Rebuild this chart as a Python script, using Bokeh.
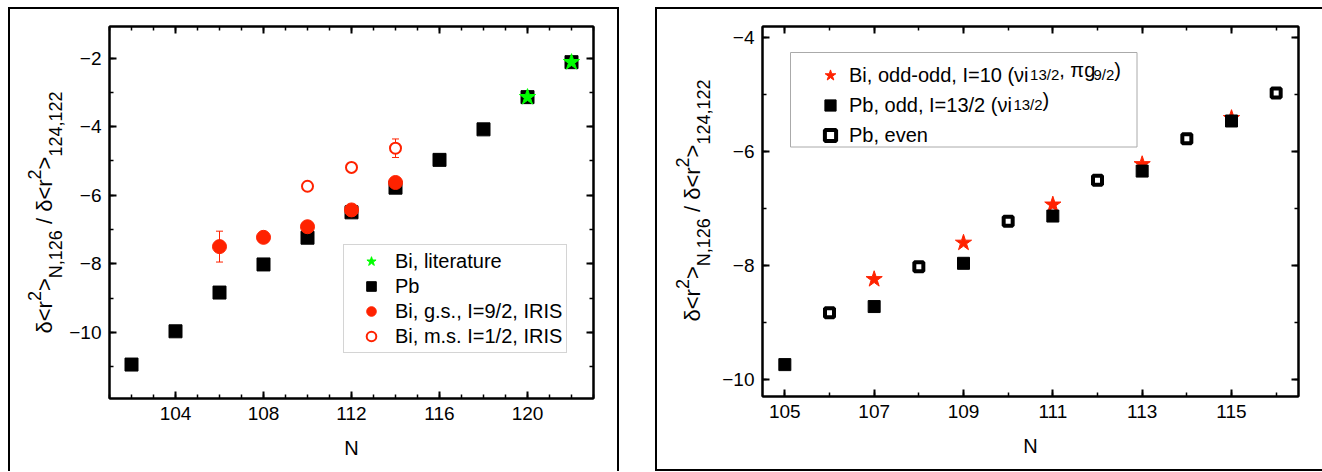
from bokeh.plotting import figure
from bokeh.models import (ColumnDataSource, Range1d, FixedTicker, LinearAxis, Label, Legend,
                          LegendItem, Whisker, TeeHead, BoxAnnotation, CustomJSTickFormatter, Spacer)
from bokeh.layouts import row, column
from bokeh.embed import file_html
from bokeh.resources import INLINE

FONT = "Liberation Sans"
RED = "#ff2200"
GREEN = "#00ff00"

# ---------------- data: left panel ----------------
pb_N = [102, 104, 106, 108, 110, 112, 114, 116, 118, 120, 122]
pb_r = [-10.94, -9.97, -8.84, -8.02, -7.24, -6.50, -5.78, -4.97, -4.08, -3.14, -2.12]
bilit_N = [120, 122]
bilit_r = [-3.14, -2.12]
bigs_N = [106, 108, 110, 112, 114]
bigs_r = [-7.50, -7.23, -6.92, -6.43, -5.63]
bigs_err = [0.45, 0.08, 0.08, 0.08, 0.08]
bims_N = [110, 112, 114]
bims_r = [-5.74, -5.19, -4.63]
bims_err = [0.08, 0.08, 0.27]

left_xticks = [104, 108, 112, 116, 120]
left_yticks = [-10, -8, -6, -4, -2]

# ---------------- data: right panel ----------------
bioo_N = [107, 109, 111, 113, 115]
bioo_r = [-8.24, -7.60, -6.93, -6.22, -5.41]
pbodd_N = [105, 107, 109, 111, 113, 115]
pbodd_r = [-9.74, -8.72, -7.96, -7.13, -6.34, -5.46]
pbeven_N = [106, 108, 110, 112, 114, 116]
pbeven_r = [-8.83, -8.02, -7.22, -6.50, -5.77, -4.97]

right_xticks = [105, 107, 109, 111, 113, 115]
right_yticks = [-10, -8, -6, -4]

# Arial / Liberation Sans advance widths (em)
AW = {' ': .278, ',': .278, '.': .278, '/': .278, '-': .333, '(': .333, ')': .333, '=': .584,
      '<': .584, '>': .584, 'B': .667, 'i': .222, 'o': .556, 'd': .556, 'I': .278, 'P': .667,
      'b': .556, 'e': .556, 'v': .5, 'n': .556, 'g': .556, 'r': .333, 'N': .722, 'δ': .556,
      'ν': .5, 'π': .6}


def tw(s, size):
    return sum(AW.get(c, .556) for c in s) * size


def make_fig(xr, yr, fw, fh, mbl, mbr, mbt, mbb, xt, xminor, yt, yminor):
    p = figure(x_range=Range1d(*xr), y_range=Range1d(*yr), frame_width=fw, frame_height=fh,
               min_border_left=mbl, min_border_right=mbr, min_border_top=mbt,
               min_border_bottom=mbb, output_backend="svg", toolbar_location=None,
               x_axis_type=None, y_axis_type=None)
    p.outline_line_color = "black"
    p.outline_line_width = 2
    p.background_fill_color = "white"
    p.border_fill_color = "white"
    for place, dim in (("below", "x"), ("left", "y"), ("above", "x"), ("right", "y")):
        ticks, minor = (xt, xminor) if dim == "x" else (yt, yminor)
        ax = LinearAxis(ticker=FixedTicker(ticks=ticks, minor_ticks=minor))
        ax.axis_line_width = 2
        ax.axis_line_color = "black"
        ax.major_tick_in = 7
        ax.major_tick_out = 0
        ax.minor_tick_in = 4
        ax.minor_tick_out = 0
        ax.major_tick_line_width = 2
        ax.minor_tick_line_width = 1.5
        ax.major_label_text_font = FONT
        ax.major_label_text_font_size = "19px"
        ax.major_label_text_color = "black"
        ax.major_label_standoff = 8
        if place in ("above", "right"):
            ax.formatter = CustomJSTickFormatter(code="return ''")
            ax.major_label_standoff = 0
        if place == "below":
            ax.axis_label = "N"
            ax.axis_label_text_font = FONT
            ax.axis_label_text_font_size = "20px"
            ax.axis_label_text_font_style = "normal"
            ax.axis_label_text_color = "black"
            ax.axis_label_standoff = 14
        p.add_layout(ax, place)
    return p


def label_fig(w, h):
    f = figure(width=w, height=h, min_border=0, min_border_left=0, min_border_right=0,
               min_border_top=0, min_border_bottom=0, x_range=Range1d(0, 1), y_range=Range1d(0, 1),
               x_axis_type=None, y_axis_type=None, toolbar_location=None, output_backend="svg")
    f.outline_line_color = None
    f.background_fill_color = "white"
    f.border_fill_color = "white"
    return f


def vlabel(p, x0, yc, pieces, F=22, S=18, sub_dx=11, sup_dx=10):
    total = sum(tw(t, F if k == "n" else S) for t, k in pieces)
    y = yc - total / 2
    for t, k in pieces:
        size = F if k == "n" else S
        lead = len(t) - len(t.lstrip())
        dx = {"n": 0, "sub": sub_dx, "sup": -sup_dx}[k]
        p.add_layout(Label(x=x0 + dx, y=y + tw(t[:lead], size), x_units="screen", y_units="screen",
                           text=t.strip(), angle=90, angle_units="deg", text_font=FONT,
                           text_font_size=f"{size}px", text_align="left",
                           text_baseline="alphabetic", text_color="black"))
        y += tw(t, size)


def hpieces(p, x0, y, pieces, F=20, S=15, sub_dy=5):
    x = x0
    for t, k in pieces:
        size = F if k == "n" else S
        p.add_layout(Label(x=x, y=y - (sub_dy if k == "sub" else 0), x_units="screen",
                           y_units="screen", text=t, text_font=FONT, text_font_size=f"{size}px",
                           text_align="left", text_baseline="middle", text_color="black"))
        x += tw(t, size)


YLAB = [("δ<r", "n"), ("2", "sup"), (">", "n"), ("N,126", "sub"), (" / δ<r", "n"),
        ("2", "sup"), (">", "n"), ("124,122", "sub")]

# ================= left panel =================
p1 = make_fig((101, 123), (-11.93, -1.08), 484, 372, 39, 24, 17, 73,
              left_xticks, list(range(101, 124)), left_yticks, list(range(-11, -1)))

src_pb = ColumnDataSource(dict(x=pb_N, y=pb_r))
src_lit = ColumnDataSource(dict(x=bilit_N, y=bilit_r))
src_gs = ColumnDataSource(dict(x=bigs_N, y=bigs_r, lo=[a - e for a, e in zip(bigs_r, bigs_err)],
                               hi=[a + e for a, e in zip(bigs_r, bigs_err)]))
src_ms = ColumnDataSource(dict(x=bims_N, y=bims_r, lo=[a - e for a, e in zip(bims_r, bims_err)],
                               hi=[a + e for a, e in zip(bims_r, bims_err)]))

for s in (src_gs, src_ms):
    w = Whisker(base="x", upper="hi", lower="lo", source=s, line_color=RED, line_width=1,
                level="underlay",
                upper_head=TeeHead(size=7, line_color=RED, line_width=1),
                lower_head=TeeHead(size=7, line_color=RED, line_width=1))
    p1.add_layout(w)

r_pb = p1.scatter("x", "y", source=src_pb, marker="square", size=13, color="black")
r_lit = p1.scatter("x", "y", source=src_lit, marker="star", size=17, color=GREEN)
r_gs = p1.scatter("x", "y", source=src_gs, marker="circle", size=14, color=RED)
r_ms = p1.scatter("x", "y", source=src_ms, marker="circle", size=11, fill_color="white",
                  line_color=RED, line_width=2)

leg1 = Legend(items=[LegendItem(label="Bi, literature", renderers=[r_lit]),
                     LegendItem(label="Pb", renderers=[r_pb]),
                     LegendItem(label="Bi, g.s., I=9/2, IRIS", renderers=[r_gs]),
                     LegendItem(label="Bi, m.s. I=1/2, IRIS", renderers=[r_ms])],
              location=(234, 45), padding=4, spacing=1, glyph_width=46, glyph_height=24,
              label_height=24, label_standoff=1, label_text_font=FONT,
              label_text_font_size="20px", label_text_color="black",
              border_line_color="#aaaaaa", border_line_width=1,
              background_fill_color="white", background_fill_alpha=1, margin=0)
p1.add_layout(leg1)

# label figure: its frame is aligned with p1's frame (bottom at y=398 px)
l1 = label_fig(56, 462)
vlabel(l1, 34, 186, YLAB)

panel1 = row(l1, p1, styles={"border-top": "2px solid black", "border-left": "2px solid black",
                             "border-right": "2px solid black"})

# ================= right panel =================
p2 = make_fig((104.5, 116.5), (-10.3, -3.8), 536, 370, 45, 24, 17, 73,
              right_xticks, list(range(104, 117)), right_yticks, list(range(-10, -3)))

src_oo = ColumnDataSource(dict(x=bioo_N, y=bioo_r))
src_odd = ColumnDataSource(dict(x=pbodd_N, y=pbodd_r))
src_even = ColumnDataSource(dict(x=pbeven_N, y=pbeven_r))

r_oo = p2.scatter("x", "y", source=src_oo, marker="star", size=17, color=RED)
r_odd = p2.scatter("x", "y", source=src_odd, marker="square", size=12, color="black")
r_even = p2.scatter("x", "y", source=src_even, marker="square", size=9, fill_color="white",
                    line_color="black", line_width=4)

box = BoxAnnotation(left=28, right=374.5, top=344, bottom=249.5, left_units="screen",
                    right_units="screen", top_units="screen", bottom_units="screen",
                    fill_color="white", fill_alpha=1, line_color="#aaaaaa", line_width=1,
                    line_alpha=1, level="annotation")
p2.add_layout(box)

row1_first = "Bi, odd-odd, I=10 (νi"
row2_first = "Pb, odd, I=13/2 (νi"
LY = 247
leg2 = Legend(items=[LegendItem(label=row1_first, renderers=[r_oo]),
                     LegendItem(label=row2_first, renderers=[r_odd]),
                     LegendItem(label="Pb, even", renderers=[r_even])],
              location=(53, LY), padding=6, spacing=2, glyph_width=30, glyph_height=28,
              label_height=28, label_standoff=4, label_text_font=FONT,
              label_text_font_size="20px", label_text_color="black", border_line_color=None,
              background_fill_alpha=0, margin=0)
p2.add_layout(leg2)

tx = 53 + 6 + 30 + 4
corr = -5
hpieces(p2, tx + tw(row1_first, 20) + corr, LY + 80,
        [("13/2", "sub"), (", πg", "n"), ("9/2", "sub"), (")", "n")])
hpieces(p2, tx + tw(row2_first, 20) + corr, LY + 50, [("13/2", "sub"), (")", "n")])

# label figure: its frame is aligned with p2's frame (bottom at y=396 px)
l2 = label_fig(60, 460)
vlabel(l2, 35, 196, YLAB)

panel2 = row(l2, p2, styles={"border": "2px solid black"})

layout = column(Spacer(width=10, height=7),
                row(Spacer(width=8, height=10), panel1, Spacer(width=36, height=10), panel2))
open("out.html", "w").write(file_html(layout, INLINE))
